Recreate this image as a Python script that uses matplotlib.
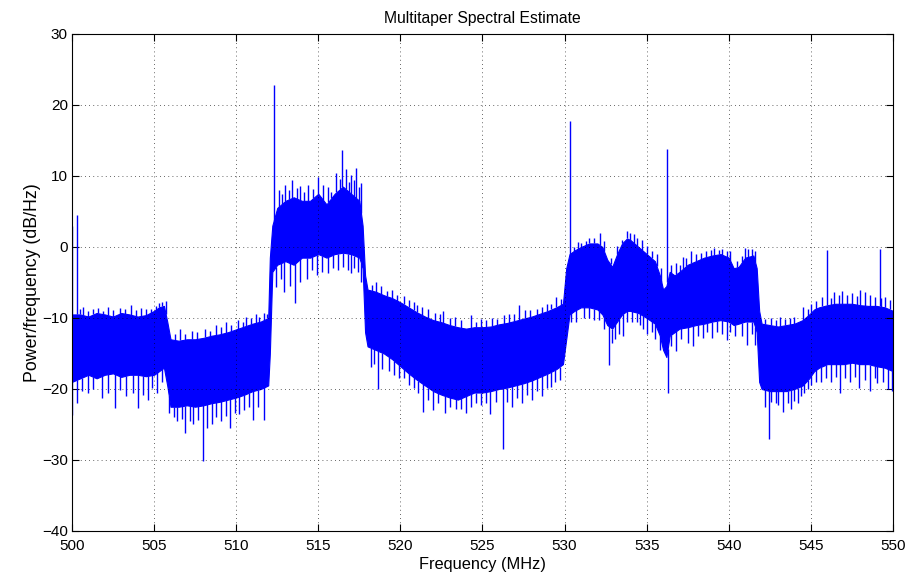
import numpy as np
import matplotlib
matplotlib.use("Agg")
import matplotlib.pyplot as plt

plt.rcParams['font.family'] = ['Liberation Sans', 'DejaVu Sans']

# Envelope of the dense noise band (MHz, dB/Hz)
freq = [500.0, 500.5, 501.0, 501.5, 502.0, 502.5, 503.0, 503.5, 504.0, 504.5,
        505.0, 505.3, 505.6, 505.8, 506.0, 506.5, 507.0, 507.5, 508.0, 508.5,
        509.0, 509.5, 510.0, 510.5, 511.0, 511.5, 511.95, 512.05, 512.2, 512.5,
        513.0, 513.5, 514.0, 514.5, 515.0, 515.5, 516.0, 516.5, 517.0, 517.5,
        517.7, 517.85, 518.0, 518.5, 519.0, 519.5, 520.0, 520.5, 521.0, 521.5,
        522.0, 522.5, 523.0, 523.5, 524.0, 524.5, 525.0, 525.5, 526.0, 526.5,
        527.0, 527.5, 528.0, 528.5, 529.0, 529.5, 529.9, 530.1, 530.3, 530.6,
        531.0, 531.5, 532.0, 532.3, 532.6, 532.9, 533.2, 533.5, 533.8, 534.0,
        534.5, 535.0, 535.5, 535.8, 536.0, 536.2, 536.4, 536.7, 537.0, 537.5,
        538.0, 538.5, 539.0, 539.5, 540.0, 540.3, 540.6, 541.0, 541.5, 541.7,
        541.85, 542.0, 542.5, 543.0, 543.5, 544.0, 544.5, 544.9, 545.2, 545.5,
        546.0, 546.5, 547.0, 547.5, 548.0, 548.5, 549.0, 549.5, 550.0]
upper = [-9.5, -9.5, -9.8, -9.3, -9.5, -9.8, -9.3, -9.5, -9.8, -9.6,
         -9.0, -8.5, -8.3, -10.5, -13.0, -13.2, -13.0, -13.0, -12.8, -12.5,
         -12.3, -12.0, -11.6, -11.2, -10.8, -10.5, -10.0, -1.5, 3.0, 5.5,
         6.5, 7.0, 6.5, 6.5, 7.5, 6.0, 7.5, 8.5, 7.5, 6.5,
         3.0, -4.0, -6.0, -6.3, -6.8, -7.2, -7.8, -8.5, -9.2, -9.8,
         -10.3, -10.6, -11.0, -11.3, -11.5, -11.3, -11.3, -11.2, -10.9, -10.7,
         -10.4, -10.1, -9.8, -9.4, -9.0, -8.5, -8.0, -3.0, -1.0, -0.5,
         0.0, 0.5, 0.5, 0.0, -1.8, -2.8, -1.0, 0.5, 1.2, 1.0,
         0.0, -1.0, -2.0, -4.0, -6.0, -5.5, -3.5, -4.0, -3.5, -2.5,
         -2.0, -1.5, -1.2, -1.0, -1.5, -3.0, -2.8, -1.5, -1.2, -3.0,
         -9.0, -10.8, -11.0, -11.2, -11.0, -10.8, -10.3, -9.5, -8.8, -8.5,
         -8.2, -8.0, -8.0, -8.0, -8.2, -8.3, -8.3, -8.5, -9.0]
lower = [-19.0, -18.5, -18.0, -18.5, -18.0, -17.8, -18.3, -18.0, -18.0, -18.2,
         -18.0, -17.5, -17.0, -19.5, -22.5, -22.5, -22.3, -22.5, -22.3, -22.0,
         -21.8, -21.5, -21.2, -20.8, -20.3, -20.0, -19.5, -15.0, -3.5, -2.5,
         -2.0, -2.5, -1.5, -1.5, -1.0, -1.5, -1.0, -0.8, -1.0, -1.5,
         -3.0, -12.0, -14.0, -14.5, -15.0, -15.8, -16.8, -17.8, -18.7, -19.5,
         -20.3, -20.8, -21.2, -21.5, -21.0, -20.5, -20.5, -20.3, -20.0, -19.8,
         -19.5, -19.2, -18.8, -18.3, -17.8, -17.2, -16.5, -13.0, -9.5, -9.0,
         -8.5, -8.5, -8.8, -9.5, -11.0, -11.5, -10.5, -9.5, -9.0, -9.0,
         -9.3, -10.0, -10.8, -12.5, -14.5, -15.5, -12.5, -12.0, -11.5, -11.3,
         -11.0, -10.8, -10.5, -10.3, -10.5, -11.0, -10.8, -10.5, -10.5, -12.0,
         -19.0, -20.0, -20.3, -20.3, -20.3, -20.0, -19.5, -18.5, -17.5, -17.0,
         -16.5, -16.5, -16.5, -16.3, -16.5, -16.5, -16.8, -17.0, -17.5]

# Upward spikes above the band (frequency, peak level)
peak_freq = [500.02, 500.28, 512.28, 530.3, 536.26, 546.0, 549.2,
             500.5, 500.7, 501.0, 501.3, 501.6, 501.9, 502.2, 502.5, 502.9, 503.2,
             503.6, 503.9, 504.2, 504.5, 504.8, 505.1, 505.3, 505.5, 505.7,
             506.3, 506.6, 506.9, 507.3, 507.6, 508.1, 508.4, 508.8, 509.1, 509.4,
             509.7, 510.1, 510.4, 510.6, 510.9, 511.2, 511.4, 511.7, 511.9,
             512.6, 512.8, 513.0, 513.2, 513.4, 513.7, 513.9, 514.1, 514.4, 514.7,
             515.0, 515.3, 515.6, 515.8, 516.1, 516.3, 516.45, 516.7, 516.9, 517.0,
             517.2, 517.3, 517.5, 517.6,
             518.3, 518.5, 518.8, 519.2, 519.5, 519.8, 520.2, 520.5, 520.8, 521.0,
             521.3, 521.7, 522.1, 522.4, 522.6, 523.0, 523.3, 523.7, 524.3,
             524.6, 524.9, 525.2, 525.6, 525.9, 526.3, 526.6, 526.9, 527.24, 527.6,
             527.9, 528.3, 528.6, 528.9, 529.2, 529.5, 529.8,
             530.6, 530.8, 531.0, 531.3, 531.5, 531.8, 532.15, 532.4, 532.8, 533.2,
             533.5, 533.8, 534.0, 534.2, 534.4, 534.7, 535.0, 535.3, 535.6, 535.9,
             536.5, 536.8, 537.0, 537.2, 537.4, 537.7, 538.0, 538.3, 538.6, 538.9,
             539.1, 539.4, 539.6, 539.9, 540.1, 540.5, 540.8, 541.0, 541.2, 541.4, 541.6,
             542.2, 542.6, 542.9, 543.1, 543.4, 543.7, 544.0, 544.5, 544.8, 545.0,
             545.3, 545.7, 546.2, 546.4, 546.7, 546.9, 547.2, 547.5, 547.8, 548.0,
             548.3, 548.6, 548.9, 549.3, 549.5, 549.8]
peak_val = [2.9, 4.5, 22.8, 17.8, 13.8, -0.4, -0.3,
            -8.8, -8.5, -9.0, -8.7, -8.6, -9.0, -8.4, -8.9, -8.6, -8.8,
            -8.2, -8.9, -8.6, -8.7, -8.8, -8.3, -7.9, -7.8, -7.6,
            -12.3, -11.6, -12.2, -11.8, -12.0, -11.5, -11.8, -11.0, -11.3, -10.6,
            -11.0, -10.3, -10.6, -9.8, -10.0, -9.5, -9.8, -9.3, -9.4,
            8.0, 7.5, 8.8, 8.0, 9.4, 8.3, 8.6, 7.8, 8.8, 8.2,
            9.9, 8.8, 8.5, 7.8, 10.4, 9.6, 13.7, 11.0, 9.2, 10.2,
            9.5, 11.1, 8.5, 9.0,
            -5.3, -5.0, -5.5, -6.2, -6.0, -6.8, -6.9, -7.4, -7.8, -8.2,
            -8.5, -8.8, -9.3, -9.5, -9.0, -10.0, -9.8, -10.3, -9.6,
            -10.5, -10.2, -10.3, -10.0, -10.1, -9.6, -9.5, -9.4, -8.2, -8.9,
            -8.9, -8.7, -8.4, -8.1, -8.0, -7.0, -7.3,
            0.0, 0.7, 0.5, 0.9, 1.2, 1.3, 2.0, 0.8, -1.5, 0.2,
            1.0, 2.2, 1.9, 1.8, 1.2, 1.0, 0.2, -0.5, -1.0, -3.0,
            -2.5, -2.2, -2.5, -1.4, -1.5, -0.5, -1.0, -0.8, -0.5, -0.4,
            -0.2, -0.4, -0.3, -0.5, -0.6, -2.0, -1.3, -0.2, -0.3, -0.3, -0.5,
            -10.2, -10.0, -10.3, -9.8, -10.2, -10.0, -9.8, -8.4, -8.8, -8.0,
            -7.6, -7.0, -7.2, -6.3, -6.7, -6.2, -6.8, -6.5, -6.9, -6.1,
            -6.4, -6.8, -7.0, -7.2, -7.0, -7.5]

# Downward spikes below the band (frequency, trough level)
dip_freq = [500.02, 500.3, 500.6, 501.0, 501.3, 501.8, 502.2, 502.6, 502.9, 503.3,
            503.7, 504.0, 504.3, 504.6, 504.9, 505.2, 505.5,
            505.9, 506.2, 506.4, 506.7, 506.9, 507.2, 507.4, 507.7, 507.96, 508.2,
            508.5, 508.8, 509.1, 509.4, 509.6, 509.9, 510.2, 510.5, 510.8, 511.0,
            511.3, 511.7,
            512.4, 512.7, 512.9, 513.3, 513.6, 513.9, 514.3, 514.6, 514.9, 515.2,
            515.6, 515.9, 516.2, 516.5, 516.8, 517.0, 517.2, 517.4, 517.6,
            518.2, 518.4, 518.66, 518.9, 519.3, 519.6, 519.9, 520.2, 520.5, 520.8,
            521.1, 521.35, 521.7, 522.0, 522.3, 522.7, 523.0, 523.4, 523.7, 524.0,
            524.3, 524.6, 524.9, 525.2, 525.45, 525.8, 526.22, 526.5, 526.8, 527.1,
            527.4, 527.7, 528.0, 528.3, 528.6, 528.9, 529.2, 529.4, 529.7,
            530.4, 530.7, 531.2, 531.5, 531.8, 532.1, 532.4, 532.7, 532.9, 533.1,
            533.3, 533.55, 533.8, 534.1, 534.4, 534.6, 534.8, 535.0, 535.3, 535.5,
            535.8, 536.28,
            536.5, 536.8, 537.1, 537.5, 537.8, 538.1, 538.4, 538.7, 539.0, 539.3,
            539.6, 539.9, 540.1, 540.4, 540.8, 541.1, 541.4, 541.6,
            542.2, 542.46, 542.6, 542.9, 543.0, 543.3, 543.6, 543.8, 544.0, 544.2,
            544.4, 544.6, 544.8, 545.0, 545.3, 545.6, 545.9, 546.2, 546.5, 546.8,
            547.1, 547.4, 547.7, 547.9, 548.3, 548.6, 548.9, 549.0, 549.4, 549.7, 549.95]
dip_val = [-23.7, -22.0, -20.3, -20.5, -20.0, -21.3, -20.6, -22.7, -20.2, -21.0,
           -20.5, -22.7, -20.8, -21.5, -19.8, -20.5, -19.0,
           -23.4, -24.0, -24.5, -24.2, -26.2, -24.5, -25.0, -24.3, -30.2, -25.5,
           -25.0, -24.0, -24.5, -23.8, -25.5, -23.4, -23.5, -23.0, -22.5, -24.4,
           -22.5, -24.3,
           -5.7, -4.5, -6.3, -5.5, -7.9, -5.0, -4.5, -3.2, -4.0, -3.5,
           -3.7, -3.0, -3.2, -2.8, -3.2, -3.7, -3.0, -3.5, -5.0,
           -16.9, -16.5, -20.0, -17.2, -17.5, -18.0, -18.5, -18.5, -19.5, -19.8,
           -20.5, -23.2, -21.5, -23.0, -22.0, -23.4, -22.5, -22.8, -22.8, -23.4,
           -22.5, -22.0, -22.2, -22.0, -23.5, -21.8, -28.5, -21.8, -22.5, -21.3,
           -22.0, -20.8, -21.6, -20.3, -21.0, -19.8, -19.7, -19.0, -18.7,
           -10.5, -10.5, -10.0, -10.0, -10.3, -10.3, -11.5, -16.6, -13.5, -13.0,
           -12.3, -12.5, -10.5, -10.5, -10.5, -11.0, -11.5, -12.2, -12.0, -12.9,
           -14.5, -20.5,
           -14.0, -14.7, -13.0, -13.5, -14.0, -12.5, -12.8, -12.0, -12.8, -12.0,
           -12.2, -13.1, -12.0, -12.5, -12.5, -13.8, -12.3, -13.8,
           -22.5, -27.0, -21.8, -22.0, -22.3, -23.3, -22.0, -22.8, -21.7, -22.0,
           -21.0, -20.5, -20.0, -19.5, -19.0, -19.0, -18.5, -19.0, -18.3, -20.5,
           -18.5, -19.0, -18.3, -19.8, -18.8, -20.3, -18.5, -19.2, -19.0, -20.0, -20.3]

x_ticks = [500, 505, 510, 515, 520, 525, 530, 535, 540, 545, 550]
y_ticks = [-40, -30, -20, -10, 0, 10, 20, 30]

fig = plt.figure(figsize=(9.10, 5.84), dpi=100)
ax = fig.add_axes([0.0791, 0.0908, 0.9022, 0.8510])

blue = (0, 0, 1)
ax.fill_between(freq, lower, upper, color=blue, linewidth=0.8, edgecolor=blue)
pf = np.array(peak_freq)
ax.vlines(pf, np.interp(pf, freq, upper), peak_val, color=blue, linewidth=1.0)
df = np.array(dip_freq)
ax.vlines(df, dip_val, np.interp(df, freq, lower), color=blue, linewidth=1.0)

ax.set_xlim(500, 550)
ax.set_ylim(-40, 30)
ax.set_xticks(x_ticks)
ax.set_yticks(y_ticks)
ax.set_xticklabels([str(t) for t in x_ticks])
ax.set_yticklabels([str(t).replace('-', '\u2212') for t in y_ticks])
ax.tick_params(direction='in', top=True, right=True, length=5, width=0.8,
               labelsize=11)
ax.tick_params(axis='x', pad=6)
ax.tick_params(axis='y', pad=3)
ax.grid(True, linestyle=(0, (1, 4)), color='black', linewidth=0.6, alpha=0.8)
for s in ax.spines.values():
    s.set_linewidth(0.8)

ax.set_title('Multitaper Spectral Estimate', fontsize=11.3, pad=8)
ax.set_xlabel('Frequency (MHz)', fontsize=11.8, labelpad=3)
ax.set_ylabel('Power/frequency (dB/Hz)', fontsize=12.8, labelpad=1)

fig.savefig('out.png', dpi=100)
